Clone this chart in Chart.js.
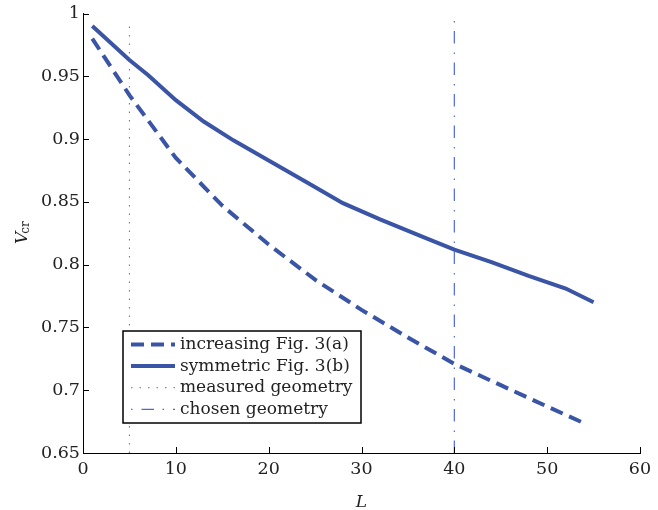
<!DOCTYPE html>
<html>
<head>
<meta charset="utf-8">
<script src="https://cdn.jsdelivr.net/npm/chart.js@4/dist/chart.umd.min.js"></script>
<style>
  html, body { margin: 0; padding: 0; background: #fff; }
  #wrap { width: 658px; height: 510px; }
</style>
</head>
<body>
<div id="wrap"><canvas id="vcr-chart" width="658" height="510"></canvas></div>
<script>
// values
var incL   = [1, 5, 10, 15, 20, 25, 30, 35, 40, 45, 50, 54.2];
var incV   = [0.980, 0.935, 0.885, 0.847, 0.816, 0.788, 0.764, 0.742, 0.721, 0.704, 0.687, 0.673];
var symL   = [1, 5, 7, 10, 13, 16.2, 20, 24, 28, 32, 37, 40, 44, 48, 52, 55];
var symV   = [0.990, 0.963, 0.951, 0.931, 0.914, 0.899, 0.883, 0.866, 0.849, 0.836, 0.821, 0.812, 0.802, 0.791, 0.781, 0.770];
var measuredL = 5;
var chosenL   = 40;
var vLineV    = [0.65, 0.994];
var xTicks = [0, 10, 20, 30, 40, 50, 60];
var yTicks = [0.65, 0.7, 0.75, 0.8, 0.85, 0.9, 0.95, 1];
var legendLabels = ["increasing Fig. 3(a)", "symmetric Fig. 3(b)", "measured geometry", "chosen geometry"];

var blue = "#3a54a6";
var thinBlue = "rgb(80,104,215)";
var serif = "'DejaVu Serif', 'Liberation Serif', serif";

function pts(xs, ys) {
  return xs.map(function (x, i) { return { x: x, y: ys[i] }; });
}
function vline(x) {
  return vLineV.map(function (y) { return { x: x, y: y }; });
}

// inward ticks, axis titles and the boxed legend
var extras = {
  id: "extras",
  afterDraw: function (chart) {
    var ctx = chart.ctx;
    var xs = chart.scales.x, ys = chart.scales.y;
    var area = chart.chartArea;
    ctx.save();
    ctx.strokeStyle = "#000";
    ctx.lineWidth = 1;
    ctx.beginPath();
    xTicks.forEach(function (t) {
      var px = Math.round(xs.getPixelForValue(t)) + 0.5;
      ctx.moveTo(px, area.bottom);
      ctx.lineTo(px, area.bottom - 6);
    });
    yTicks.forEach(function (t) {
      var py = Math.round(ys.getPixelForValue(t)) + 0.5;
      ctx.moveTo(area.left, py);
      ctx.lineTo(area.left + 6, py);
    });
    ctx.stroke();

    // x title
    ctx.fillStyle = "#222";
    ctx.font = "italic 17px " + serif;
    ctx.textAlign = "center";
    ctx.textBaseline = "alphabetic";
    ctx.fillText("L", (area.left + area.right) / 2, 507);

    // y title V_cr
    ctx.save();
    ctx.translate(27, 244);
    ctx.rotate(-Math.PI / 2);
    ctx.textAlign = "left";
    ctx.font = "italic 17px " + serif;
    ctx.fillText("V", 0, 0);
    var w = ctx.measureText("V").width;
    ctx.font = "12px " + serif;
    ctx.fillText("cr", w - 2, 2);
    ctx.restore();

    // legend
    var bx = 123, by = 331, bw = 238, bh = 92;
    ctx.fillStyle = "#fff";
    ctx.fillRect(bx, by, bw, bh);
    ctx.lineWidth = 1.5;
    ctx.strokeStyle = "#000";
    ctx.strokeRect(bx, by, bw, bh);
    ctx.font = "17px " + serif;
    ctx.textBaseline = "middle";
    ctx.textAlign = "left";
    chart.data.datasets.forEach(function (ds, i) {
      var cy = by + 13.5 + i * 21.6;
      ctx.beginPath();
      ctx.strokeStyle = ds.borderColor;
      ctx.lineWidth = ds.borderWidth;
      ctx.setLineDash(ds.borderDash || []);
      ctx.lineDashOffset = i === 3 ? 21 : 0;
      ctx.moveTo(131, cy);
      ctx.lineTo(175, cy);
      ctx.stroke();
      ctx.setLineDash([]);
      ctx.fillStyle = "#222";
      ctx.fillText(legendLabels[i], 180, cy);
    });
    ctx.restore();
  }
};

var ctx = document.getElementById("vcr-chart").getContext("2d");
var chart = new Chart(ctx, {
  type: "line",
  data: {
    datasets: [
      {
        label: legendLabels[0],
        data: pts(incL, incV),
        borderColor: blue,
        borderWidth: 4,
        borderDash: [13, 7],
        pointRadius: 0,
        tension: 0
      },
      {
        label: legendLabels[1],
        data: pts(symL, symV),
        borderColor: blue,
        borderWidth: 4,
        pointRadius: 0,
        tension: 0
      },
      {
        label: legendLabels[2],
        data: vline(measuredL),
        borderColor: thinBlue,
        borderWidth: 1,
        borderDash: [1.5, 7],
        pointRadius: 0
      },
      {
        label: legendLabels[3],
        data: vline(chosenL),
        borderColor: thinBlue,
        borderWidth: 1.2,
        borderDash: [12.5, 8.5, 1.5, 9],
        pointRadius: 0
      }
    ]
  },
  options: {
    responsive: false,
    animation: false,
    layout: { padding: { left: 0, right: 18, top: 13, bottom: 0 } },
    plugins: {
      legend: { display: false },
      tooltip: { enabled: false }
    },
    scales: {
      x: {
        type: "linear",
        min: 0,
        max: 60,
        afterFit: function (s) { s.height = 57; },
        afterBuildTicks: function (s) { s.ticks = xTicks.map(function (v) { return { value: v }; }); },
        grid: { drawOnChartArea: false, drawTicks: false },
        border: { color: "#000", width: 1 },
        ticks: {
          padding: 6,
          color: "#222",
          font: { family: serif, size: 17.5 },
          callback: function (v) { return String(v); }
        }
      },
      y: {
        type: "linear",
        min: 0.65,
        max: 1,
        afterFit: function (s) { s.width = 83; },
        afterBuildTicks: function (s) { s.ticks = yTicks.map(function (v) { return { value: v }; }); },
        grid: { drawOnChartArea: false, drawTicks: false },
        border: { color: "#000", width: 1 },
        ticks: {
          padding: 3,
          color: "#222",
          font: { family: serif, size: 17.5 },
          callback: function (v) { return String(+v.toFixed(2)); }
        }
      }
    }
  },
  plugins: [extras]
});
</script>
</body>
</html>
